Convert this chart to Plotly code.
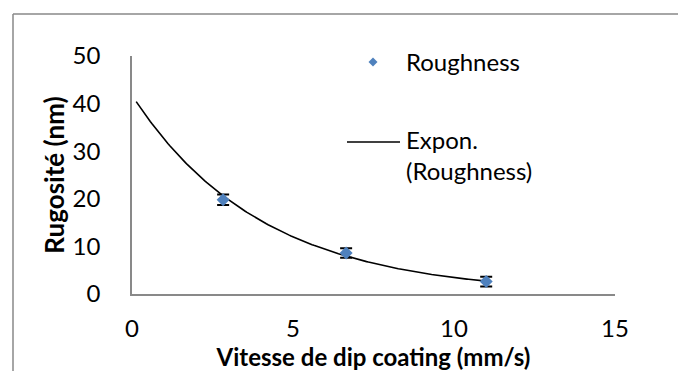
import numpy as np
import plotly.graph_objects as go

# Measured roughness vs dip-coating speed
speed = [2.83, 6.65, 11.0]          # mm/s
roughness = [19.8, 8.6, 2.6]        # nm
roughness_err = [1.1, 1.0, 1.0]     # nm

x_ticks = [0, 5, 10, 15]
y_ticks = [0, 10, 20, 30, 40, 50]

# Exponential trendline (least squares on ln y), extended slightly backward
b, ln_a = np.polyfit(speed, np.log(roughness), 1)
x_fit = np.linspace(0.13, max(speed), 200)
y_fit = np.exp(ln_a) * np.exp(b * x_fit)

FONT = "Lato"
FS = 24
AXIS_GREY = "#898989"
BLUE = "#4F81BD"

fig = go.Figure()
fig.add_trace(go.Scatter(
    x=x_fit, y=y_fit, mode="lines",
    line=dict(color="black", width=1.6),
    showlegend=False, hoverinfo="skip",
))
fig.add_trace(go.Scatter(
    x=speed, y=roughness, mode="markers",
    marker=dict(symbol="diamond", size=10, color=BLUE),
    error_y=dict(type="data", array=roughness_err, color="black",
                 thickness=2, width=6),
    showlegend=False,
))

W, H = 678, 371
L, R, T, B = 132, 63, 56, 77
pw, ph = W - L - R, H - T - B

def px(x):
    return (x - L) / pw

def py(y):
    return (H - B - y) / ph

# Outer chart border (top and left edges visible)
fig.add_shape(type="line", xref="paper", yref="paper",
              x0=px(13), y0=py(14), x1=px(700), y1=py(14),
              line=dict(color=AXIS_GREY, width=1.5))
fig.add_shape(type="line", xref="paper", yref="paper",
              x0=px(13), y0=py(14), x1=px(13), y1=py(400),
              line=dict(color=AXIS_GREY, width=1.5))

# Legend: diamond marker + label, line sample + wrapped label
cx, cy, hs = 373, 62, 4.5
fig.add_shape(type="path", xref="paper", yref="paper",
              path=(f"M{px(cx - hs)},{py(cy)} L{px(cx)},{py(cy - hs)} "
                    f"L{px(cx + hs)},{py(cy)} L{px(cx)},{py(cy + hs)} Z"),
              fillcolor=BLUE, line=dict(width=0))
fig.add_annotation(xref="paper", yref="paper", x=px(404), y=py(61),
                   text="Roughness", showarrow=False, xanchor="left",
                   yanchor="middle", font=dict(family=FONT, size=FS, color="black"))
fig.add_shape(type="line", xref="paper", yref="paper",
              x0=px(347), y0=py(142), x1=px(400), y1=py(142),
              line=dict(color="black", width=1.6))
fig.add_annotation(xref="paper", yref="paper", x=px(404), y=py(155),
                   text="Expon.<br>(Roughness)", showarrow=False, xanchor="left",
                   yanchor="middle", align="left",
                   font=dict(family=FONT, size=FS, color="black"))

fig.update_layout(
    width=W, height=H,
    margin=dict(l=L, r=R, t=T, b=B, pad=0, autoexpand=False),
    paper_bgcolor="white", plot_bgcolor="white",
    font=dict(family=FONT, size=FS, color="black"),
    xaxis=dict(
        range=[0, 15], tickvals=x_ticks, showgrid=False, zeroline=False,
        showline=True, linecolor=AXIS_GREY, linewidth=1.5,
        ticks="", ticklabelstandoff=12, automargin=False,
        title=dict(text="<b>Vitesse de dip coating (mm/s)</b>",
                   font=dict(family=FONT, size=FS), standoff=12),
    ),
    yaxis=dict(
        range=[0, 50], tickvals=y_ticks, showgrid=False, zeroline=False,
        showline=True, linecolor=AXIS_GREY, linewidth=1.5,
        ticks="", ticklabelstandoff=25, automargin=False,
        title=dict(text="<b>Rugosité (nm)</b>",
                   font=dict(family=FONT, size=26), standoff=1),
    ),
)

fig.write_html("out.html")
